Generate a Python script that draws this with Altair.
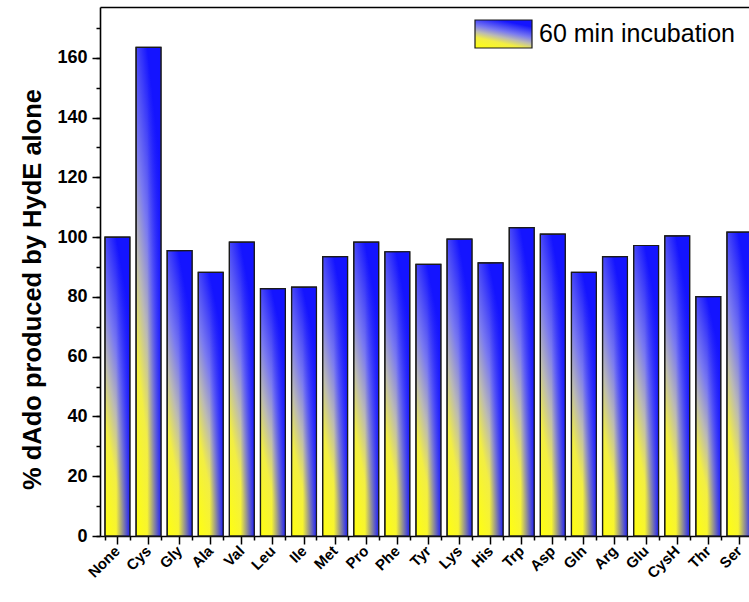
import altair as alt
import pandas as pd

categories = ["None", "Cys", "Gly", "Ala", "Val", "Leu", "Ile", "Met", "Pro", "Phe", "Tyr",
              "Lys", "His", "Trp", "Asp", "Gln", "Arg", "Glu", "CysH", "Thr", "Ser"]
values = [100.0, 163.5, 95.5, 88.2, 98.3, 82.8, 83.3, 93.5, 98.3, 95.1, 90.9,
          99.3, 91.4, 103.2, 101.0, 88.2, 93.5, 97.2, 100.4, 80.1, 101.7]
series_name = "60 min incubation"
y_major = list(range(0, 161, 20))
y_minor = list(range(0, 171, 10))

df = pd.DataFrame({"cat": categories, "val": values, "series": [series_name] * len(categories)})

# main fill: yellow at the bottom-left, blue towards the top
grad_expr = ("{gradient:'linear', x1:0, y1:1, x2:0.45, y2:0, stops:["
             "{offset:0,color:'#ffff10'},{offset:0.32,color:'#f2ee44'},"
             "{offset:0.5,color:'#bbbab4'},{offset:0.68,color:'#7a7af0'},"
             "{offset:1,color:'#1414ff'}]}")

# overlay: blue shading along the right edge of each bar
edge_grad = {"gradient": "linear", "x1": 0, "y1": 0, "x2": 1, "y2": 0,
             "stops": [{"offset": 0, "color": "rgba(20,20,255,0)"},
                       {"offset": 0.45, "color": "rgba(20,20,255,0)"},
                       {"offset": 1, "color": "rgba(20,20,255,0.92)"}]}

FONT = "Liberation Sans"

xscale = alt.Scale(range=[0, 656.8], paddingInner=0.2, paddingOuter=0.16)
yscale = alt.Scale(domain=[0, 177], nice=False, zero=True)

base = alt.Chart(df)

bars = base.mark_bar(stroke="#1a1a1a", strokeWidth=1.2).encode(
    x=alt.X("cat:N", sort=categories, scale=xscale,
            axis=alt.Axis(title=None, orient="bottom", labelAngle=-45, labelAlign="right",
                          labelBaseline="middle", labelFont=FONT, labelFontSize=15,
                          labelFontWeight="bold", labelColor="black", labelPadding=4,
                          tickSize=8, tickWidth=1.5, tickColor="black",
                          domainColor="black", domainWidth=1.6, grid=False)),
    y=alt.Y("val:Q", scale=yscale,
            axis=alt.Axis(values=y_major, title="% dAdo produced by HydE alone",
                          titleFont=FONT, titleFontSize=25.5, titleFontWeight="bold",
                          titleColor="black", titlePadding=11, titleY=282,
                          labelFont=FONT, labelFontSize=18, labelFontWeight="bold",
                          labelColor="black", labelPadding=5,
                          tickSize=8, tickWidth=1.5, tickColor="black",
                          domainColor="black", domainWidth=1.6, grid=False)),
    color=alt.Color("series:N",
                    scale=alt.Scale(domain=[series_name], range=[{"expr": grad_expr}]),
                    legend=alt.Legend(title=None, orient="none", legendX=374, legendY=-2.5,
                                      symbolType="M-1,-0.491H1V0.491H-1Z", symbolSize=3249,
                                      symbolStrokeColor="#1a1a1a", symbolStrokeWidth=1.2,
                                      labelFont=FONT, labelFontSize=25, labelColor="black",
                                      labelOffset=6, labelLimit=0, padding=0)),
)

edge = base.mark_bar(color=edge_grad, stroke="#1a1a1a", strokeWidth=1.2).encode(
    x=alt.X("cat:N", sort=categories,
            axis=alt.Axis(title=None, orient="bottom", labels=False, domain=False,
                          tickBand="extent", tickSize=4, tickWidth=1.5, tickColor="black",
                          grid=False)),
    y=alt.Y("val:Q",
            axis=alt.Axis(values=y_minor, title=None, orient="left", labels=False,
                          domain=False, tickSize=4, tickWidth=1.5, tickColor="black",
                          grid=False)),
)

top = base.mark_bar(opacity=0).encode(
    x=alt.X("cat:N", sort=categories,
            axis=alt.Axis(title=None, orient="top", labels=False, ticks=False,
                          domainColor="black", domainWidth=1.6, grid=False)),
    y=alt.Y("val:Q", axis=None),
)

chart = alt.layer(bars, edge, top).resolve_axis(
    x="independent", y="independent"
).properties(
    width=649, height=529,
    autosize=alt.AutoSizeParams(type="none"),
    padding={"left": 100, "top": 7, "right": 0, "bottom": 66},
    background="white",
).configure_view(stroke=None)

chart.save("out.html", embed_options={"renderer": "svg", "actions": False})
